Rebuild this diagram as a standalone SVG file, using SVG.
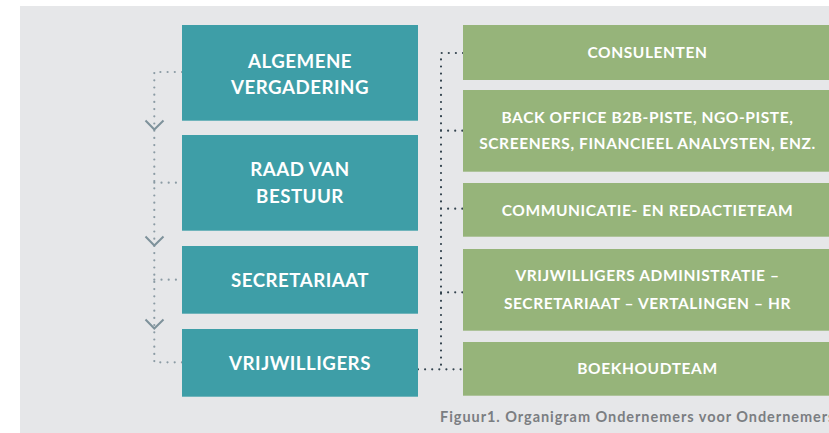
<svg xmlns="http://www.w3.org/2000/svg" width="829" height="433" viewBox="0 0 829 433">
<style>
.teal{fill:#3e9ea7}
.green{fill:#96b47a}
.t{font-family:Lato,"Open Sans",sans-serif;font-weight:bold;fill:#ffffff;text-anchor:middle}
.tt{font-size:18.7px;letter-spacing:0.5px}
.tg{font-size:15.5px;letter-spacing:0.6px}
.dl{fill:none;stroke:#8b9ba4;stroke-width:2.2;stroke-linecap:round;stroke-dasharray:0 7.2}
.dr{fill:none;stroke:#34444f;stroke-width:2.2;stroke-linecap:round;stroke-dasharray:0 7.1}
.chev{fill:none;stroke:#7e929b;stroke-width:2}
.cap{font-family:Lato,"Open Sans",sans-serif;font-weight:bold;font-size:14.5px;letter-spacing:0.95px;fill:#7b7e82}
</style>
<rect x="0" y="0" width="829" height="433" fill="#ffffff"/>
<rect x="20" y="6" width="809" height="427" fill="#e6e7e9"/>
<g id="connectors">
<path class="dl" d="M182 72 H154.3 V362.3 H182"/>
<path class="dl" d="M154.3 182.7 H182 M154.3 279.7 H182"/>
<path class="chev" d="M145.5 120.5 L154.3 129.5 L163.5 120.5"/>
<path class="chev" d="M145.5 236.5 L154.3 245.5 L163.5 236.5"/>
<path class="chev" d="M145.5 319.5 L154.3 328.5 L163.5 319.5"/>
<path class="dr" d="M463 53 H441 V369.3"/>
<path class="dr" d="M441 130.7 H463 M441 208.7 H463 M441 292.3 H463 M418 369.3 H463"/>
</g>
<g id="algemene-vergadering">
<rect class="teal" x="182" y="25" width="236" height="95.7"/>
<text class="t tt" x="300" y="67.5">ALGEMENE</text>
<text class="t tt" x="300" y="94">VERGADERING</text>
</g>
<g id="raad-van-bestuur">
<rect class="teal" x="182" y="135" width="236" height="95.7"/>
<text class="t tt" x="300" y="176">RAAD VAN</text>
<text class="t tt" x="300" y="203.3">BESTUUR</text>
</g>
<g id="secretariaat">
<rect class="teal" x="182" y="246" width="236" height="67.7"/>
<text class="t tt" x="300" y="287.3">SECRETARIAAT</text>
</g>
<g id="vrijwilligers">
<rect class="teal" x="182" y="329" width="236" height="67.7"/>
<text class="t tt" x="300" y="370">VRIJWILLIGERS</text>
</g>
<g id="consulenten">
<rect class="green" x="463" y="25" width="370" height="55"/>
<text class="t tg" x="647.5" y="58.3">CONSULENTEN</text>
</g>
<g id="back-office">
<rect class="green" x="463" y="90" width="370" height="81.7"/>
<text class="t tg" x="647.5" y="122.7">BACK OFFICE B2B-PISTE, NGO-PISTE,</text>
<text class="t tg" x="647.5" y="149.3">SCREENERS, FINANCIEEL ANALYSTEN, ENZ.</text>
</g>
<g id="communicatie">
<rect class="green" x="463" y="183" width="370" height="53.7"/>
<text class="t tg" x="647.5" y="215.5">COMMUNICATIE- EN REDACTIETEAM</text>
</g>
<g id="vrijwilligers-administratie">
<rect class="green" x="463" y="249" width="370" height="81.7"/>
<text class="t tg" x="647.5" y="281">VRIJWILLIGERS ADMINISTRATIE –</text>
<text class="t tg" x="647.5" y="309">SECRETARIAAT – VERTALINGEN – HR</text>
</g>
<g id="boekhoudteam">
<rect class="green" x="463" y="342" width="370" height="53.7"/>
<text class="t tg" x="647.5" y="374">BOEKHOUDTEAM</text>
</g>
<text class="cap" x="440" y="422.3">Figuur1. Organigram Ondernemers voor Ondernemers</text>
</svg>
